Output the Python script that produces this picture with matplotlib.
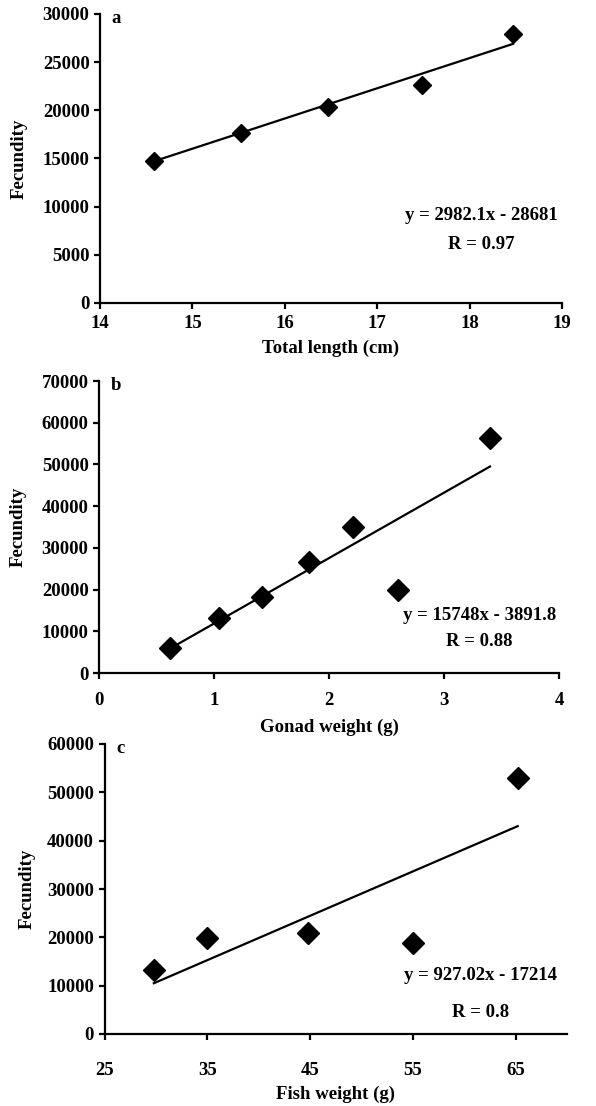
""" Fecundity regressions, three stacked panels """
import numpy as np
import matplotlib
import matplotlib.pyplot as plt

matplotlib.use('Agg')
plt.rcParams['font.family'] = ['Liberation Serif', 'DejaVu Serif']

# panel a: total length
length_cm = [14.58, 15.53, 16.47, 17.48, 18.47]
fec_a = [14700, 17600, 20300, 22600, 27900]
fit_a_x = [14.58, 18.47]
fit_a_y = [14700, 26900]

# panel b: gonad weight
gonad_g = [0.62, 1.04, 1.42, 1.83, 2.21, 2.60, 3.40]
fec_b = [6000, 13100, 18300, 26700, 35000, 19800, 56300]
fit_b_x = [0.62, 3.40]
fit_b_y = [5900, 49500]

# panel c: fish weight
fish_g = [29.8, 35.0, 44.8, 55.0, 65.2]
fec_c = [13300, 19800, 20900, 18800, 53000]
fit_c_x = [29.8, 65.2]
fit_c_y = [10500, 43000]

W, H = 596, 1106
fig = plt.figure(figsize=(W / 100, H / 100), dpi=100)


def px_axes(left, right, top, bottom):
    return fig.add_axes([left / W, 1 - bottom / H, (right - left) / W, (bottom - top) / H])


def style(ax, xpad, ylabpad):
    for s in ['top', 'right']:
        ax.spines[s].set_visible(False)
    for s in ['left', 'bottom']:
        ax.spines[s].set_linewidth(1.6)
    ax.tick_params(direction='out', length=4, width=1.6, labelsize=13.5)
    ax.tick_params(axis='x', pad=xpad)
    for t in ax.get_xticklabels() + ax.get_yticklabels():
        t.set_fontweight('bold')
    ax.set_ylabel('Fecundity', fontsize=13.5, fontweight='bold', labelpad=ylabpad)


panels = [
    dict(box=(100, 562, 14, 303), x=length_cm, y=fec_a, fx=fit_a_x, fy=fit_a_y,
         xlim=(14, 19), xt=[14, 15, 16, 17, 18, 19], ylim=(0, 30000), yt=range(0, 30001, 5000),
         xlabel='Total length (cm)', tag='a', ms=9, xpad=5, labpad=5, ylabpad=11,
         eq='y = 2982.1x - 28681', r='R = 0.97', eqpos=(18.13, 9100), rpos=(18.13, 6050)),
    dict(box=(99, 559, 381, 673), x=gonad_g, y=fec_b, fx=fit_b_x, fy=fit_b_y,
         xlim=(0, 4), xt=[0, 1, 2, 3, 4], ylim=(0, 70000), yt=range(0, 70001, 10000),
         xlabel='Gonad weight (g)', tag='b', ms=11, xpad=9.5, labpad=7, ylabpad=11,
         eq='y = 15748x - 3891.8', r='R = 0.88', eqpos=(3.31, 13700), rpos=(3.31, 7650)),
    dict(box=(104.5, 567, 744, 1034), x=fish_g, y=fec_c, fx=fit_c_x, fy=fit_c_y,
         xlim=(25, 70), xt=[25, 35, 45, 55, 65], ylim=(0, 60000), yt=range(0, 60001, 10000),
         xlabel='Fish weight (g)', tag='c', ms=11, xpad=16, labpad=5, ylabpad=8,
         eq='y = 927.02x - 17214', r='R = 0.8', eqpos=(61.6, 12000), rpos=(61.6, 4350)),
]

for p in panels:
    ax = px_axes(*p['box'])
    ax.plot(p['fx'], p['fy'], color='black', lw=1.6)
    ax.plot(p['x'], p['y'], 'D', color='black', ms=p['ms'], clip_on=False)
    ax.set_xlim(*p['xlim'])
    ax.set_ylim(*p['ylim'])
    ax.set_xticks(p['xt'])
    ax.set_yticks(list(p['yt']))
    style(ax, p['xpad'], p['ylabpad'])
    ax.set_xlabel(p['xlabel'], fontsize=13.5, fontweight='bold', labelpad=p['labpad'])
    ax.text(0.025, 0.985, p['tag'], transform=ax.transAxes, fontsize=13.5,
            fontweight='bold', va='center', ha='left')
    ax.text(*p['eqpos'], p['eq'], fontsize=13.5, fontweight='bold', ha='center', va='center')
    ax.text(*p['rpos'], p['r'], fontsize=13.5, fontweight='bold', ha='center', va='center')

fig.savefig('out.png', dpi=100)
plt.close()
